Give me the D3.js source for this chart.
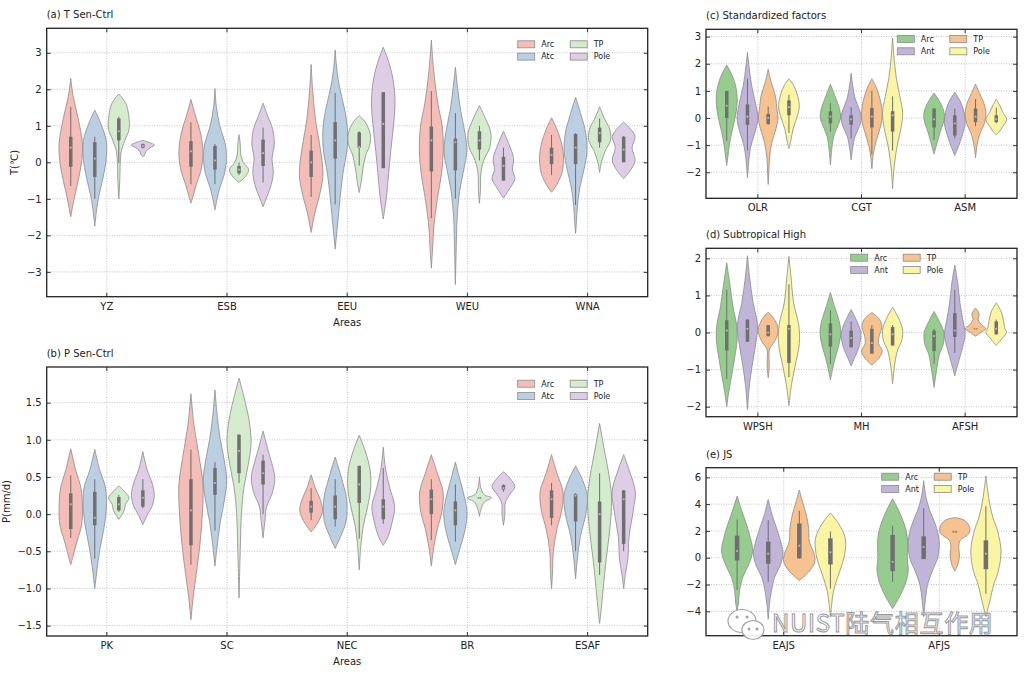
<!DOCTYPE html>
<html>
<head>
<meta charset="utf-8">
<script src="https://cdn.jsdelivr.net/npm/d3@7"></script>
<style>
  body { margin: 0; background: #fff; }
  svg { display: block; font-family: "DejaVu Sans", sans-serif; }
</style>
</head>
<body>
<svg id="chart" width="1028" height="674"></svg>
<script>
// categories and hue groups
const tAreas = ["YZ", "ESB", "EEU", "WEU", "WNA"];
const pAreas = ["PK", "SC", "NEC", "BR", "ESAF"];
const factorNames = ["OLR", "CGT", "ASM"];
const highNames = ["WPSH", "MH", "AFSH"];
const jetNames = ["EAJS", "AFJS"];
const hueAB = ["Arc", "Atc", "TP", "Pole"];
const hueCDE = ["Arc", "Ant", "TP", "Pole"];

// tick values
const tTicks = [-3, -2, -1, 0, 1, 2, 3];
const pTicks = [-1.5, -1, -0.5, 0, 0.5, 1, 1.5];
const cTicks = [-2, -1, 0, 1, 2, 3];
const dTicks = [-2, -1, 0, 1, 2];
const eTicks = [-4, -2, 0, 2, 4, 6];

// violins: s = outline [value, relative width] top->bottom, b = [whisker lo, q1, median, q3, whisker hi]
const tViolins = [
  {c: "YZ", h: "Arc", s: [[2.3,0],[1.8,.2],[1.2,.62],[.5,.97],[0,.9],[-.5,.62],[-1,.28],[-1.49,0]], b: [-.65,-.12,.4,.7,1.52]},
  {c: "YZ", h: "Atc", s: [[1.43,0],[1.1,.45],[.6,.95],[.1,.95],[-.4,.7],[-.9,.35],[-1.3,.15],[-1.75,0]], b: [-1,-.4,.1,.55,.7]},
  {c: "YZ", h: "TP", s: [[1.87,0],[1.6,.6],[1.2,.85],[.9,.85],[.6,.5],[.3,.2],[0,.12],[-.5,.08],[-1,0]], b: [-.02,.6,.85,1.2,1.25]},
  {c: "YZ", h: "Pole", s: [[.6,0],[.55,.5],[.47,.97],[.4,.6],[.3,.25],[.2,.15],[.15,0]], b: [.38,.4,.45,.5,.52]},
  {c: "ESB", h: "Arc", s: [[1.72,0],[1.3,.35],[.8,.8],[.3,1],[-.2,.85],[-.6,.45],[-.9,.2],[-1.12,0]], b: [-.6,-.12,.3,.58,1.1]},
  {c: "ESB", h: "Atc", s: [[2.02,0],[1.5,.12],[1,.4],[.5,.85],[.1,.95],[-.3,.8],[-.7,.4],[-1,.18],[-1.3,0]], b: [-.6,-.2,.05,.45,.5]},
  {c: "ESB", h: "TP", s: [[.76,0],[.5,.1],[.2,.15],[0,.35],[-.2,.8],[-.4,.5],[-.55,0]], b: [-.35,-.3,-.2,-.1,0]},
  {c: "ESB", h: "Pole", s: [[1.62,0],[1.3,.35],[.9,.8],[.5,.93],[.1,.75],[-.3,.85],[-.7,.6],[-1,.25],[-1.22,0]], b: [-.55,-.1,.25,.62,.95]},
  {c: "EEU", h: "Arc", s: [[2.68,0],[2,.12],[1.2,.35],[.5,.7],[0,.92],[-.4,.97],[-.9,.7],[-1.4,.3],[-1.92,0]], b: [-.95,-.4,0,.32,.75]},
  {c: "EEU", h: "Atc", s: [[3.08,0],[2.5,.15],[2,.4],[1.5,.75],[1,1],[.4,1],[-.3,.65],[-1,.4],[-1.7,.2],[-2.38,0]], b: [-1.15,.1,.6,1.1,1.9]},
  {c: "EEU", h: "TP", s: [[1.28,0],[1.1,.5],[.8,.9],[.5,.9],[.2,.55],[-.2,.3],[-.5,.18],[-.83,0]], b: [-.09,.4,.42,.82,.85]},
  {c: "EEU", h: "Pole", s: [[3.15,0],[2.7,.5],[2.2,.85],[1.6,.98],[1,.85],[.3,.62],[-.3,.45],[-.9,.28],[-1.3,.12],[-1.55,0]], b: [-.16,-.16,1.05,1.92,1.92]},
  {c: "WEU", h: "Arc", s: [[3.35,0],[2.5,.2],[1.6,.55],[1,.9],[.4,1],[-.3,.85],[-1,.5],[-1.8,.2],[-2.4,.1],[-2.9,0]], b: [-1.53,-.25,.6,.98,1.95]},
  {c: "WEU", h: "Atc", s: [[2.6,0],[2,.2],[1.4,.45],[.8,.8],[.3,.95],[-.2,.7],[-.8,.35],[-1.5,.15],[-2.5,.06],[-3.35,0]], b: [-1,-.22,.55,.65,1.35]},
  {c: "WEU", h: "TP", s: [[1.55,0],[1.2,.5],[.8,.95],[.4,.85],[.05,.35],[-.3,.12],[-.8,.08],[-1.12,0]], b: [.05,.35,.6,.85,1]},
  {c: "WEU", h: "Pole", s: [[.85,0],[.5,.45],[.1,.85],[-.2,.75],[-.45,.95],[-.7,.55],[-.98,0]], b: [-.5,-.5,-.1,.15,.4]},
  {c: "WNA", h: "Arc", s: [[1.22,0],[.9,.45],[.5,.85],[.1,1],[-.3,.85],[-.6,.45],[-.82,0]], b: [-.35,-.05,.2,.4,.75]},
  {c: "WNA", h: "Atc", s: [[1.78,0],[1.3,.45],[.8,.85],[.3,.95],[-.2,.7],[-.7,.35],[-1.2,.15],[-1.6,.08],[-1.95,0]], b: [-1.17,-.05,.4,.78,.8]},
  {c: "WNA", h: "TP", s: [[1.52,0],[1.2,.4],[.9,.85],[.6,.9],[.3,.45],[0,.15],[-.28,0]], b: [.4,.55,.8,.95,1.2]},
  {c: "WNA", h: "Pole", s: [[1.1,0],[.9,.6],[.7,.95],[.4,.7],[.05,.95],[-.2,.6],[-.45,0]], b: [0,0,.35,.7,.72]}
];

const pViolins = [
  {c: "PK", h: "Arc", s: [[.88,0],[.6,.4],[.35,.85],[.1,.97],[-.15,.9],[-.35,.55],[-.5,.3],[-.68,0]], b: [-.32,-.2,.13,.28,.52]},
  {c: "PK", h: "Atc", s: [[.87,0],[.6,.4],[.35,.9],[.05,.95],[-.2,.75],[-.45,.45],[-.7,.22],[-1,0]], b: [-.6,-.15,-.05,.3,.47]},
  {c: "PK", h: "TP", s: [[.38,0],[.3,.5],[.22,.85],[.13,.55],[.05,.45],[-.02,.2],[-.07,0]], b: [.03,.05,.13,.23,.26]},
  {c: "PK", h: "Pole", s: [[.84,0],[.6,.35],[.4,.8],[.25,.95],[.1,.75],[0,.4],[-.14,0]], b: [.08,.1,.22,.32,.47]},
  {c: "SC", h: "Arc", s: [[1.62,0],[1.2,.25],[.8,.65],[.4,1],[0,.95],[-.4,.75],[-.8,.45],[-1.1,.2],[-1.42,0]], b: [-.68,-.42,.05,.47,.87]},
  {c: "SC", h: "Atc", s: [[1.67,0],[1.3,.2],[1,.45],[.7,.8],[.45,.97],[.2,.8],[-.1,.45],[-.4,.2],[-.7,0]], b: [-.22,.26,.42,.62,.7]},
  {c: "SC", h: "TP", s: [[1.83,0],[1.55,.45],[1.25,.85],[.95,1],[.65,.75],[.35,.4],[0,.2],[-.5,.1],[-1.13,0]], b: [.42,.55,.85,1.07,1.07]},
  {c: "SC", h: "Pole", s: [[1.12,0],[.9,.35],[.7,.7],[.5,.97],[.3,.8],[.1,.3],[-.1,.15],[-.32,0]], b: [0,.4,.55,.72,.8]},
  {c: "NEC", h: "Arc", s: [[.53,0],[.35,.35],[.2,.75],[.05,.95],[-.1,.6],[-.24,0]], b: [-.08,.02,.1,.18,.35]},
  {c: "NEC", h: "Atc", s: [[.77,0],[.5,.5],[.2,.95],[-.1,.9],[-.3,.45],[-.46,0]], b: [-.17,-.07,.1,.25,.47]},
  {c: "NEC", h: "TP", s: [[1.06,0],[.85,.5],[.6,.9],[.35,.95],[.1,.7],[-.15,.35],[-.4,.15],[-.75,0]], b: [-.33,.15,.4,.65,.65]},
  {c: "NEC", h: "Pole", s: [[.9,0],[.6,.2],[.35,.55],[.1,.95],[-.1,.75],[-.3,.4],[-.42,0]], b: [-.13,-.07,.1,.2,.62]},
  {c: "BR", h: "Arc", s: [[.8,0],[.55,.5],[.3,.97],[.05,.9],[-.2,.5],[-.45,.2],[-.7,0]], b: [-.35,0,.2,.33,.47]},
  {c: "BR", h: "Atc", s: [[.7,0],[.45,.4],[.2,.8],[0,.97],[-.25,.75],[-.45,.4],[-.68,0]], b: [-.37,-.15,.05,.17,.4]},
  {c: "BR", h: "TP", s: [[.5,0],[.35,.12],[.26,.4],[.22,1],[.16,.4],[.06,.12],[-.03,0]], b: [.21,.21,.22,.23,.23]},
  {c: "BR", h: "Pole", s: [[.57,0],[.48,.55],[.37,.95],[.26,.5],[.15,.15],[0,.12],[-.15,0]], b: [.3,.33,.35,.39,.4]},
  {c: "ESAF", h: "Arc", s: [[.8,0],[.55,.45],[.3,.95],[.05,.85],[-.2,.45],[-.5,.15],[-.8,.08],[-1,0]], b: [-.15,-.05,.2,.32,.42]},
  {c: "ESAF", h: "Atc", s: [[.65,0],[.45,.6],[.25,.97],[0,.85],[-.3,.4],[-.6,.15],[-.87,0]], b: [-.5,-.1,.25,.27,.28]},
  {c: "ESAF", h: "TP", s: [[1.22,0],[.9,.35],[.5,.8],[.2,1],[-.2,.85],[-.6,.55],[-1,.3],[-1.3,.12],[-1.47,0]], b: [-.82,-.65,0,.17,.55]},
  {c: "ESAF", h: "Pole", s: [[.8,0],[.55,.55],[.3,.97],[.05,.8],[-.3,.45],[-.6,.35],[-.8,.15],[-1,0]], b: [-.5,-.4,.2,.32,.32]}
];

const cViolins = [
  {c: "OLR", h: "Arc", s: [[1.95,0],[1.5,.6],[1,.95],[.5,1],[0,.8],[-.5,.5],[-1,.25],[-1.4,.12],[-1.75,0]], b: [-.85,0,.45,1,1]},
  {c: "OLR", h: "Ant", s: [[2.42,0],[1.9,.15],[1.2,.4],[.6,.75],[0,1],[-.5,.75],[-1,.35],[-1.5,.15],[-2.2,0]], b: [-1.2,-.25,.05,.5,1.45]},
  {c: "OLR", h: "TP", s: [[1.8,0],[1.3,.3],[.8,.7],[.3,.85],[0,.95],[-.4,.75],[-.9,.35],[-1.5,.12],[-2,.06],[-2.45,0]], b: [-.25,-.22,0,.15,.42]},
  {c: "OLR", h: "Pole", s: [[1.45,0],[1.2,.45],[.8,.85],[.4,1],[0,.75],[-.4,.4],[-.8,.2],[-1.13,0]], b: [-.55,.1,.4,.65,.85]},
  {c: "CGT", h: "Arc", s: [[1.25,0],[.8,.45],[.3,.9],[0,.97],[-.3,.7],[-.7,.3],[-1.2,.12],[-1.73,0]], b: [-.5,-.2,.05,.25,.55]},
  {c: "CGT", h: "Ant", s: [[1.65,0],[1.2,.15],[.7,.4],[.3,.8],[0,.97],[-.3,.8],[-.7,.35],[-1.1,.15],[-1.55,0]], b: [-.75,-.25,-.05,.1,.4]},
  {c: "CGT", h: "TP", s: [[1.45,0],[1.1,.45],[.6,.85],[.1,1],[-.3,.85],[-.8,.45],[-1.3,.15],[-1.87,0]], b: [-1.35,-.35,.05,.37,1]},
  {c: "CGT", h: "Pole", s: [[2.95,0],[2.3,.12],[1.5,.35],[.8,.7],[.2,.97],[-.4,.8],[-1,.45],[-1.5,.25],[-2,.1],[-2.6,0]], b: [-1.2,-.5,.1,.25,.8]},
  {c: "ASM", h: "Arc", s: [[.92,0],[.6,.55],[.2,.97],[-.1,.95],[-.5,.6],[-.9,.3],[-1.33,0]], b: [-.8,-.35,-.05,.35,.35]},
  {c: "ASM", h: "Ant", s: [[.95,0],[.6,.55],[.2,.9],[-.2,1],[-.6,.75],[-1,.4],[-1.38,0]], b: [-.75,-.65,-.2,.1,.35]},
  {c: "ASM", h: "TP", s: [[1.25,0],[.9,.4],[.5,.85],[.15,1],[-.2,.85],[-.6,.4],[-1,.15],[-1.47,0]], b: [-.3,-.15,.05,.35,.7]},
  {c: "ASM", h: "Pole", s: [[.7,0],[.45,.35],[.2,.65],[-.05,1],[-.3,.65],[-.5,.3],[-.62,0]], b: [-.2,-.15,-.05,.1,.38]}
];

const dViolins = [
  {c: "WPSH", h: "Arc", s: [[1.88,0],[1.3,.3],[.7,.6],[.2,.95],[-.2,1],[-.7,.75],[-1.2,.45],[-1.6,.2],[-2,0]], b: [-1.25,-.48,.05,.33,1.15]},
  {c: "WPSH", h: "Ant", s: [[2.07,0],[1.5,.2],[.8,.55],[.2,.97],[-.3,.8],[-.9,.45],[-1.4,.2],[-2.08,0]], b: [-.25,-.25,.1,.35,.35]},
  {c: "WPSH", h: "TP", s: [[.55,0],[.35,.6],[.05,.97],[-.25,.6],[-.45,.12],[-.8,.1],[-1,.08],[-1.22,0]], b: [-.1,-.1,0,.2,.2]},
  {c: "WPSH", h: "Pole", s: [[2.05,0],[1.5,.2],[.8,.45],[.2,.95],[-.3,1],[-.9,.6],[-1.4,.25],[-1.97,0]], b: [-1.2,-.82,.1,.2,1.3]},
  {c: "MH", h: "Arc", s: [[1.08,0],[.7,.4],[.3,.85],[0,1],[-.3,.85],[-.7,.45],[-1,.2],[-1.28,0]], b: [-.85,-.38,-.05,.25,.6]},
  {c: "MH", h: "Ant", s: [[.62,0],[.4,.4],[.1,.85],[-.1,.95],[-.4,.75],[-.7,.3],[-.9,0]], b: [-.4,-.4,-.15,.05,.3]},
  {c: "MH", h: "TP", s: [[.54,0],[.35,.75],[.15,.95],[-.1,.7],[-.3,.65],[-.5,1],[-.7,.65],[-.88,0]], b: [-.57,-.57,-.28,.1,.2]},
  {c: "MH", h: "Pole", s: [[.68,0],[.4,.55],[.1,.95],[-.2,.9],[-.5,.45],[-.9,.18],[-1.38,0]], b: [-.35,-.35,-.05,.15,.2]},
  {c: "AFSH", h: "Arc", s: [[.57,0],[.3,.5],[0,.95],[-.3,.9],[-.6,.5],[-1,.25],[-1.48,0]], b: [-.85,-.5,-.1,.05,.1]},
  {c: "AFSH", h: "Ant", s: [[1.82,0],[1.3,.3],[.8,.5],[.3,.8],[-.05,1],[-.4,.75],[-.8,.35],[-1.17,0]], b: [-.55,-.12,.05,.52,1.15]},
  {c: "AFSH", h: "TP", s: [[.66,0],[.5,.35],[.35,.25],[.2,.6],[.1,1],[0,.5],[-.1,0]], b: [.1,.1,.1,.12,.12]},
  {c: "AFSH", h: "Pole", s: [[.8,0],[.55,.5],[.3,.7],[.1,.85],[0,1],[-.15,.6],[-.35,0]], b: [-.05,-.05,.1,.3,.35]}
];

const eViolins = [
  {c: "EAJS", h: "Arc", s: [[4.6,0],[3.5,.3],[2.5,.6],[1.5,.85],[.5,1],[-.5,.75],[-1.5,.35],[-2.5,.15],[-3.3,.1],[-4,0]], b: [-2.4,-.2,.5,1.65,2.85]},
  {c: "EAJS", h: "Ant", s: [[4.35,0],[3.2,.25],[2,.6],[1,.85],[.3,.95],[-.5,.8],[-1.5,.4],[-2.5,.2],[-3.5,.08],[-4.6,0]], b: [-1.8,-.45,.3,1.2,2.8]},
  {c: "EAJS", h: "TP", s: [[5.05,0],[4.2,.2],[3.2,.45],[2.2,.6],[1.2,.65],[.3,.95],[-.3,1],[-1,.65],[-1.7,0]], b: [-.05,-.05,.9,2.55,3.5]},
  {c: "EAJS", h: "Pole", s: [[3.35,0],[2.5,.55],[1.5,.95],[.5,.95],[-.5,.75],[-1.5,.45],[-2.5,.2],[-3.5,.08],[-4.4,0]], b: [-2.3,-.5,.4,1.45,1.95]},
  {c: "AFJS", h: "Arc", s: [[4.4,0],[3.5,.4],[2.5,.75],[1.5,.95],[0,.95],[-1,1],[-2,.8],[-3,.4],[-3.8,0]], b: [-1.8,-1,-.3,1.7,2.4]},
  {c: "AFJS", h: "Ant", s: [[5.75,0],[4.5,.15],[3.5,.4],[2.5,.75],[1.2,1],[0,.9],[-1,.55],[-2,.25],[-3,.12],[-4.4,0]], b: [-.1,-.1,.8,1.6,3.7]},
  {c: "AFJS", h: "TP", s: [[3,0],[2.8,.6],[2.3,.95],[1.8,.9],[1.3,.35],[.8,.25],[.2,.3],[-.5,.2],[-1,0]], b: [1.9,1.9,1.95,2,2]},
  {c: "AFJS", h: "Pole", s: [[6.1,0],[5,.12],[4,.25],[3,.45],[2,.75],[.5,.97],[-1,.8],[-2,.5],[-3,.3],[-4.4,0]], b: [-2.7,-.85,.3,1.3,3.85]}
];

const pastel = ["#f4bdb7", "#bccfe2", "#d5ebcd", "#ddcee5"];
const accent = ["#97cc8f", "#c1b4d9", "#f6c290", "#f9f5a2"];

const svg = d3.select("#chart");

const panels = [
  {title: "(a) T Sen-Ctrl", cats: tAreas, hues: hueAB, colors: pastel, data: tViolins, ticks: tTicks, fmt: d3.format("d"),
   left: 46.7, right: 647.7, top: 28.3, bottom: 296.7, yDomain: [-3.68, 3.67],
   ylabel: "T(\u2103)", ylabelX: 14, xlabel: "Areas", legend: [517.7, 44.3]},
  {title: "(b) P Sen-Ctrl", cats: pAreas, hues: hueAB, colors: pastel, data: pViolins, ticks: pTicks, fmt: d3.format(".1f"),
   left: 46.7, right: 647.7, top: 367, bottom: 636, yDomain: [-1.64, 1.98],
   ylabel: "P(mm/d)", ylabelX: 6, xlabel: "Areas", legend: [517.7, 383.7]},
  {title: "(c) Standardized factors", cats: factorNames, hues: hueCDE, colors: accent, data: cViolins, ticks: cTicks, fmt: d3.format("d"),
   left: 706, right: 1017, top: 29.3, bottom: 198.3, yDomain: [-2.96, 3.27], legend: [897.3, 39]},
  {title: "(d) Subtropical High", cats: highNames, hues: hueCDE, colors: accent, data: dViolins, ticks: dTicks, fmt: d3.format("d"),
   left: 706, right: 1017, top: 248.3, bottom: 416.7, yDomain: [-2.27, 2.27], legend: [850.7, 257.7]},
  {title: "(e) JS", cats: jetNames, hues: hueCDE, colors: accent, data: eViolins, ticks: eTicks, fmt: d3.format("d"),
   left: 706, right: 1017, top: 467.7, bottom: 635.7, yDomain: [-5.82, 6.72], legend: [881.7, 476.7]}
];

panels.forEach(p => {
  const g = svg.append("g");
  const x = d3.scaleBand().domain(p.cats).range([p.left, p.right]);
  const bw = x.bandwidth();
  const hue = d3.scaleBand().domain(p.hues).range([bw * 0.1, bw * 0.9]);
  const y = d3.scaleLinear().domain(p.yDomain).range([p.bottom, p.top]);
  const color = d3.scaleOrdinal().domain(p.hues).range(p.colors);

  // dotted grid
  g.append("g").selectAll("line").data(p.ticks).join("line")
    .attr("x1", p.left).attr("x2", p.right)
    .attr("y1", d => y(d)).attr("y2", d => y(d))
    .attr("stroke", "#aaa").attr("stroke-width", 0.7).attr("stroke-dasharray", "1,1.5");
  g.append("g").selectAll("line").data(p.cats).join("line")
    .attr("x1", d => x(d) + bw / 2).attr("x2", d => x(d) + bw / 2)
    .attr("y1", p.top).attr("y2", p.bottom)
    .attr("stroke", "#aaa").attr("stroke-width", 0.7).attr("stroke-dasharray", "1,1.5");

  // violins
  const half = hue.bandwidth() / 2;
  p.data.forEach(v => {
    const cx = x(v.c) + hue(v.h) + half;
    const area = d3.area()
      .curve(d3.curveCatmullRom.alpha(0.5))
      .y(d => y(d[0]))
      .x0(d => cx - d[1] * half)
      .x1(d => cx + d[1] * half);
    g.append("path")
      .attr("d", area(v.s))
      .attr("fill", color(v.h))
      .attr("stroke", "#8a8a8a")
      .attr("stroke-width", 0.8);
    const [lo, q1, med, q3, hi] = v.b;
    g.append("line")
      .attr("x1", cx).attr("x2", cx)
      .attr("y1", y(lo)).attr("y2", y(hi))
      .attr("stroke", "#6f6f6f").attr("stroke-width", 1);
    const boxW = p.title === "(e) JS" ? 4.5 : 3.5;
    g.append("rect")
      .attr("x", cx - boxW / 2).attr("width", boxW)
      .attr("y", y(q3)).attr("height", Math.max(y(q1) - y(q3), 1.5))
      .attr("fill", "#6f6f6f");
    g.append("circle")
      .attr("cx", cx).attr("cy", y(med)).attr("r", 1.1)
      .attr("fill", "#b8b8b8");
  });

  // axes with inward ticks
  const left = g.append("g")
    .attr("transform", `translate(${p.left},0)`)
    .call(d3.axisLeft(y).tickValues(p.ticks).tickFormat(p.fmt).tickSize(-4).tickPadding(5));
  const right = g.append("g")
    .attr("transform", `translate(${p.right},0)`)
    .call(d3.axisRight(y).tickValues(p.ticks).tickFormat("").tickSize(-4));
  const bottom = g.append("g")
    .attr("transform", `translate(0,${p.bottom})`)
    .call(d3.axisBottom(x).tickSize(-4).tickPadding(6));
  const top = g.append("g")
    .attr("transform", `translate(0,${p.top})`)
    .call(d3.axisTop(x).tickSize(-4).tickFormat(""));
  [left, right, bottom, top].forEach(a => {
    a.select(".domain").remove();
    a.selectAll(".tick line").attr("stroke", "#333");
    a.selectAll("text").attr("font-family", "DejaVu Sans").attr("font-size", 10).attr("fill", "#222");
  });

  g.append("rect")
    .attr("x", p.left).attr("y", p.top)
    .attr("width", p.right - p.left).attr("height", p.bottom - p.top)
    .attr("fill", "none").attr("stroke", "#222").attr("stroke-width", 1.3);

  // title and labels
  g.append("text")
    .attr("x", p.left).attr("y", p.top - 10)
    .attr("font-size", 10).attr("fill", "#222")
    .text(p.title);
  if (p.xlabel) {
    g.append("text")
      .attr("x", (p.left + p.right) / 2).attr("y", p.bottom + 29)
      .attr("text-anchor", "middle").attr("font-size", 10).attr("fill", "#222")
      .text(p.xlabel);
  }
  if (p.ylabel) {
    g.append("text")
      .attr("transform", `translate(${p.ylabelX},${(p.top + p.bottom) / 2}) rotate(-90)`)
      .attr("text-anchor", "middle").attr("dy", "0.35em")
      .attr("font-size", 10).attr("fill", "#222")
      .text(p.ylabel);
  }

  // legend: two columns, two rows
  const [lx, ly] = p.legend;
  const leg = g.append("g").attr("transform", `translate(${lx},${ly})`);
  p.hues.forEach((h, i) => {
    const col = Math.floor(i / 2), row = i % 2;
    const item = leg.append("g").attr("transform", `translate(${col * 52.5},${row * 12.3})`);
    item.append("rect")
      .attr("x", 0).attr("y", -3.5).attr("width", 17).attr("height", 7)
      .attr("fill", color(h)).attr("stroke", "#8a8a8a").attr("stroke-width", 0.8);
    item.append("text")
      .attr("x", 23.5).attr("dy", "0.35em")
      .attr("font-size", 8).attr("fill", "#222")
      .text(h);
  });
});

// watermark
const wm = svg.append("g").attr("opacity", 0.9);
wm.append("ellipse").attr("cx", 742).attr("cy", 621).attr("rx", 14).attr("ry", 11.5)
  .attr("fill", "#fff").attr("stroke", "#9a9a9a").attr("stroke-width", 1.2);
wm.append("ellipse").attr("cx", 753).attr("cy", 630).attr("rx", 11).attr("ry", 9.5)
  .attr("fill", "#fff").attr("stroke", "#9a9a9a").attr("stroke-width", 1.2);
[[737, 617], [747, 617], [749, 629], [757, 629]].forEach(([cx, cy]) => {
  wm.append("circle").attr("cx", cx).attr("cy", cy).attr("r", 1.5).attr("fill", "#9a9a9a");
});
wm.append("text")
  .attr("x", 772).attr("y", 632)
  .attr("font-family", "Noto Sans CJK SC").attr("font-size", 24)
  .attr("letter-spacing", 0.7)
  .attr("fill", "#fff").attr("stroke", "#8f8f8f").attr("stroke-width", 1)
  .text("NUIST陆气相互作用");
</script>
</body>
</html>
